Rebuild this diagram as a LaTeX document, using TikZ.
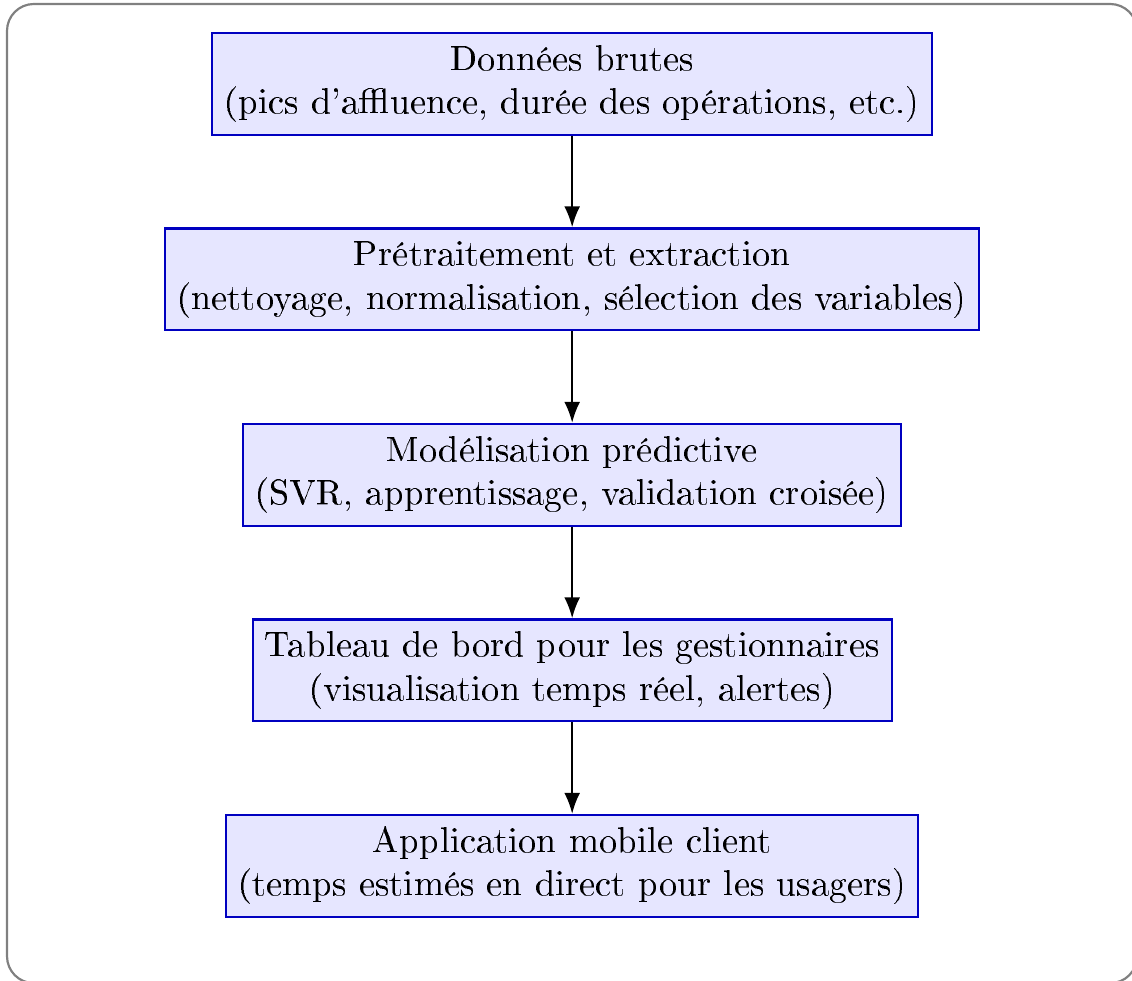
\documentclass[tikz,border=0pt]{standalone}
\usepackage[T1]{fontenc}
\usepackage{tikz}
\usetikzlibrary{arrows.meta,positioning}
\definecolor{stepfill}{HTML}{E6E6FF}
\definecolor{stepdraw}{HTML}{0000C0}
\definecolor{framegray}{HTML}{808080}
\tikzset{
  stagebox/.style={draw=stepdraw,fill=stepfill,line width=0.6pt,align=center,
    font=\normalsize},
  stageflow/.style={-{Latex[length=5.8pt,width=4.4pt]},line width=0.6pt,draw=black}
}
\begin{document}
\begin{tikzpicture}[x=1pt,y=1pt,node distance=25.2pt]
\path[use as bounding box] (0,0) rectangle (311.8,-270);
\draw[framegray,line width=0.6pt,rounded corners=7.4pt] (1.93,-1.1) rectangle (313.2,-270.8);
\node[stagebox] (raw) at (157.6,-23.1) {Données brutes\\(pics d'affluence, durée des opérations, etc.)};
\node[stagebox,below=of raw] (prep) {Prétraitement et extraction\\(nettoyage, normalisation, sélection des variables)};
\node[stagebox,below=of prep] (model) {Modélisation prédictive\\(SVR, apprentissage, validation croisée)};
\node[stagebox,below=of model] (dash) {Tableau de bord pour les gestionnaires\\(visualisation temps réel, alertes)};
\node[stagebox,below=of dash] (app) {Application mobile client\\(temps estimés en direct pour les usagers)};
\draw[stageflow] (raw) -- (prep);
\draw[stageflow] (prep) -- (model);
\draw[stageflow] (model) -- (dash);
\draw[stageflow] (dash) -- (app);
\end{tikzpicture}
\end{document}
